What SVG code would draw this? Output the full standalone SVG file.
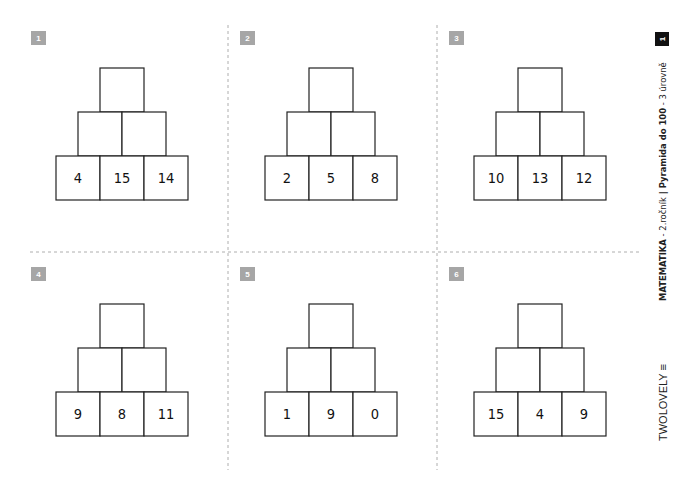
<svg xmlns="http://www.w3.org/2000/svg" width="700" height="495" viewBox="0 0 700 495">
<defs>
<style>
.c{fill:#fff;stroke:#222;stroke-width:1.2}
.n{font-family:"DejaVu Sans Condensed","Liberation Sans",sans-serif;font-size:14.5px;fill:#111;text-anchor:middle}
.b{fill:#a6a6a6}
.bt{font-family:"Liberation Sans",sans-serif;font-size:8px;font-weight:bold;fill:#fff;text-anchor:middle}
.d{stroke:#999;stroke-width:0.8;stroke-dasharray:3 3;fill:none}
</style>
<g id="p">
<rect class="c" x="100" y="68" width="44" height="44"/>
<rect class="c" x="78" y="112" width="44" height="44"/>
<rect class="c" x="122" y="112" width="44" height="44"/>
<rect class="c" x="56" y="156" width="44" height="44"/>
<rect class="c" x="100" y="156" width="44" height="44"/>
<rect class="c" x="144" y="156" width="44" height="44"/>
</g>
</defs>
<rect width="700" height="495" fill="#fff"/>
<g id="connectors">
<line class="d" x1="228" y1="25" x2="228" y2="470"/>
<line class="d" x1="437" y1="25" x2="437" y2="470"/>
<line class="d" x1="30" y1="252" x2="640" y2="252"/>
</g>
<g id="panel1"><rect class="b" x="31" y="31" width="15" height="14"/><text class="bt" x="38.5" y="41">1</text>
<use href="#p"/><text class="n" x="78" y="183">4</text><text class="n" x="122" y="183">15</text><text class="n" x="166" y="183">14</text></g>
<g id="panel2" transform="translate(209,0)"><rect class="b" x="31" y="31" width="15" height="14"/><text class="bt" x="38.5" y="41">2</text>
<use href="#p"/><text class="n" x="78" y="183">2</text><text class="n" x="122" y="183">5</text><text class="n" x="166" y="183">8</text></g>
<g id="panel3" transform="translate(418,0)"><rect class="b" x="31" y="31" width="15" height="14"/><text class="bt" x="38.5" y="41">3</text>
<use href="#p"/><text class="n" x="78" y="183">10</text><text class="n" x="122" y="183">13</text><text class="n" x="166" y="183">12</text></g>
<g id="panel4" transform="translate(0,236)"><rect class="b" x="31" y="31" width="15" height="14"/><text class="bt" x="38.5" y="41">4</text>
<use href="#p"/><text class="n" x="78" y="183">9</text><text class="n" x="122" y="183">8</text><text class="n" x="166" y="183">11</text></g>
<g id="panel5" transform="translate(209,236)"><rect class="b" x="31" y="31" width="15" height="14"/><text class="bt" x="38.5" y="41">5</text>
<use href="#p"/><text class="n" x="78" y="183">1</text><text class="n" x="122" y="183">9</text><text class="n" x="166" y="183">0</text></g>
<g id="panel6" transform="translate(418,236)"><rect class="b" x="31" y="31" width="15" height="14"/><text class="bt" x="38.5" y="41">6</text>
<use href="#p"/><text class="n" x="78" y="183">15</text><text class="n" x="122" y="183">4</text><text class="n" x="166" y="183">9</text></g>
<g id="side">
<rect x="655" y="32" width="14" height="14" fill="#111"/>
<text class="bt" x="662" y="42" transform="rotate(-90 662 39)">1</text>
<text transform="translate(666,301) rotate(-90)" font-family="'DejaVu Sans Condensed','Liberation Sans',sans-serif" font-size="9.4" fill="#222"><tspan font-weight="bold">MATEMATIKA</tspan> - 2.ročník  <tspan font-weight="bold">| Pyramida do 100</tspan> - 3 úrovně</text>
<text transform="translate(667,441) rotate(-90)" font-family="'Liberation Sans',sans-serif" font-size="11" fill="#222">TWOLOVELY ≡</text>
</g>
</svg>
